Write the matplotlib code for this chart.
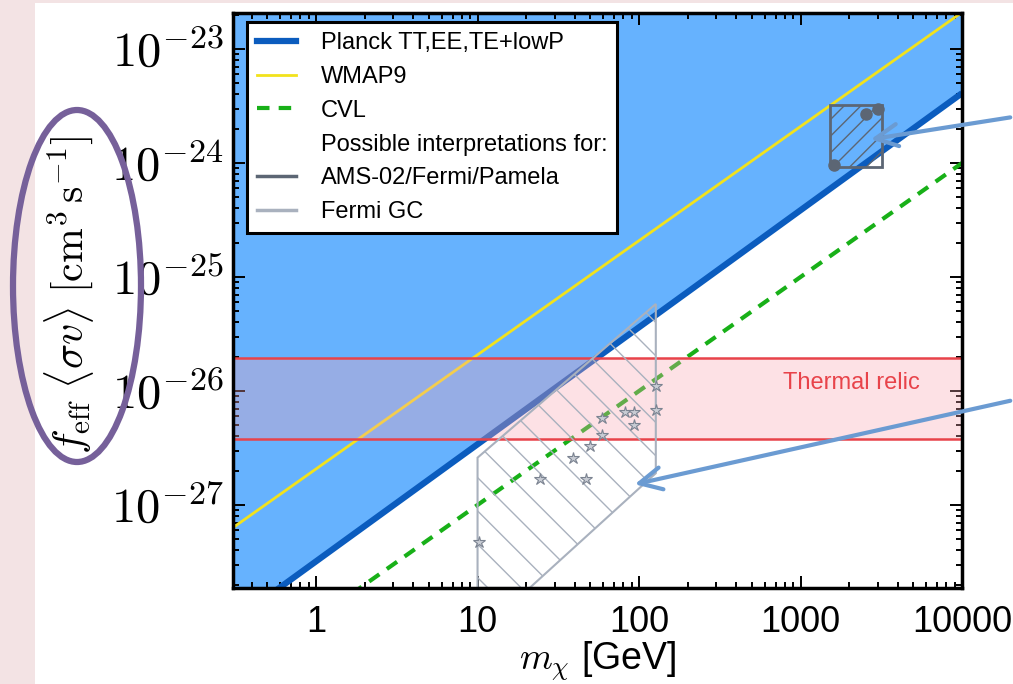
import numpy as np
import matplotlib.pyplot as plt
from matplotlib.lines import Line2D
from matplotlib.patches import Polygon, Rectangle, Ellipse
from matplotlib.ticker import FuncFormatter, FixedLocator, LogLocator, NullFormatter

plt.rcParams['font.family'] = ['Liberation Sans', 'DejaVu Sans']
plt.rcParams['mathtext.fontset'] = 'cm'
plt.rcParams['hatch.linewidth'] = 1.0

# данные
planck_mass = [0.3, 10000]
planck_sv = [9.3e-29, 4.1e-24]
wmap_mass = [0.3, 10000]
wmap_sv = [6.2e-28, 2.1e-23]
cvl_mass = [1.0, 10000]
cvl_sv = [1e-28, 1e-24]
relic_sv = [3.8e-27, 1.95e-26]

ams_box_mass = [1515, 3200]
ams_box_sv = [9.2e-25, 3.2e-24]
ams_pts_mass = [1611, 2545, 3020]
ams_pts_sv = [9.6e-25, 2.7e-24, 2.95e-24]

gc_poly_mass = [10, 10, 127, 127, 21]
gc_poly_sv = [1.87e-28, 2.6e-27, 5.8e-26, 1.9e-27, 1.87e-28]
gc_pts_mass = [10.2, 24.4, 47, 39, 50, 59, 59, 82, 93, 93, 127, 128]
gc_pts_sv = [4.7e-28, 1.7e-27, 1.7e-27, 2.6e-27, 3.3e-27, 4.1e-27, 5.8e-27,
             6.6e-27, 6.6e-27, 5.0e-27, 6.8e-27, 1.1e-26]

x_ticks = [1, 10, 100, 1000, 10000]
y_ticks = [1e-27, 1e-26, 1e-25, 1e-24, 1e-23]
xlim = (0.306, 10000)
ylim = (1.87e-28, 2.07e-23)

blue_fill = '#66b2fe'
planck_col = '#0b5cbe'
wmap_col = '#f2e21c'
cvl_col = '#18b018'
ams_col = '#5c6674'
gc_col = '#a9b1be'
red = '#e8434a'
arrow_col = '#6b9bd2'

fig = plt.figure(figsize=(10.13, 6.84), dpi=100)
fig.patch.set_facecolor('#f3e3e4')
fig.add_artist(Rectangle((35 / 1013, 0), 1, 1 - 3 / 684, transform=fig.transFigure,
                         facecolor='white', edgecolor='none', zorder=-10))

ax = fig.add_axes([0.230, 0.1404, 0.7197, 0.8406])
ax.set_xscale('log')
ax.set_yscale('log')
ax.set_xlim(*xlim)
ax.set_ylim(*ylim)

# исключённая область Planck
ax.fill_between(planck_mass, planck_sv, 1e-20, color=blue_fill, lw=0, zorder=1)
ax.plot(planck_mass, planck_sv, color=planck_col, lw=4.5, zorder=2, solid_capstyle='butt')
ax.plot(wmap_mass, wmap_sv, color=wmap_col, lw=2, zorder=2)
ax.plot(cvl_mass, cvl_sv, color=cvl_col, lw=3, ls=(0, (3, 2.2)), zorder=2)

# thermal relic
ax.axhspan(relic_sv[0], relic_sv[1], facecolor='#f9a5b3', alpha=0.33, lw=0, zorder=3)
for v in relic_sv:
    ax.axhline(v, color=red, lw=1.8, zorder=3)
ax.text(0.942, 0.357, 'Thermal relic', transform=ax.transAxes, ha='right', va='center',
        color=red, fontsize=17, zorder=6)

# AMS-02/Fermi/Pamela
bx = [ams_box_mass[0], ams_box_mass[1], ams_box_mass[1], ams_box_mass[0]]
by = [ams_box_sv[0], ams_box_sv[0], ams_box_sv[1], ams_box_sv[1]]
ax.add_patch(Polygon(list(zip(bx, by)), closed=True, facecolor='none', edgecolor=ams_col,
                     lw=2, hatch='//', zorder=4))
ax.plot(ams_pts_mass, ams_pts_sv, 'o', color=ams_col, ms=8, zorder=5)

# Fermi GC
ax.add_patch(Polygon(list(zip(gc_poly_mass, gc_poly_sv)), closed=True, facecolor='none',
                     edgecolor=gc_col, lw=1.5, hatch='\\', zorder=4))
ax.plot(gc_pts_mass, gc_pts_sv, '*', ms=9, mfc='#c8ccd4', mec='#7b8391', mew=0.8, zorder=5)

# оси
for s in ax.spines.values():
    s.set_linewidth(2.5)
    s.set_zorder(7)
ax.tick_params(which='both', direction='in', top=True, right=True, width=1.4)
ax.tick_params(which='major', length=8.5)
ax.tick_params(which='minor', length=4.3)
ax.tick_params(axis='y', which='major', pad=7, labelsize=35)
ax.tick_params(axis='x', which='major', pad=12, labelsize=26)
ax.yaxis.set_major_locator(FixedLocator(y_ticks))
ax.yaxis.set_minor_locator(LogLocator(base=10, subs=np.arange(2, 10), numticks=20))
ax.yaxis.set_minor_formatter(NullFormatter())
ax.yaxis.set_major_formatter(FuncFormatter(lambda v, p: r'$10^{%d}$' % round(np.log10(v))))
ax.xaxis.set_major_locator(FixedLocator(x_ticks))
ax.xaxis.set_major_formatter(FuncFormatter(lambda v, p: '%d' % round(v)))
ax.xaxis.set_minor_formatter(NullFormatter())

ax.set_xlabel(r'$m_\chi$ [GeV]', fontsize=27, labelpad=0)
ax.set_ylabel(r'$f_{\rm eff}\ \langle\sigma v\rangle\ [{\rm cm}^3\,{\rm s}^{-1}]$', fontsize=30)
ax.yaxis.set_label_coords(-0.188, 0.51)

handles = [
    Line2D([], [], color=planck_col, lw=4.5),
    Line2D([], [], color=wmap_col, lw=2),
    Line2D([], [], color=cvl_col, lw=3, ls=(0, (3, 2.2))),
    Line2D([], [], color='none'),
    Line2D([], [], color=ams_col, lw=2.5),
    Line2D([], [], color=gc_col, lw=2.5),
]
labels = ['Planck TT,EE,TE+lowP', 'WMAP9', 'CVL', 'Possible interpretations for:',
          'AMS-02/Fermi/Pamela', 'Fermi GC']
leg = ax.legend(handles, labels, loc='upper left', bbox_to_anchor=(0.019, 0.984),
                borderaxespad=0, fontsize=17, frameon=True, fancybox=False, framealpha=1,
                handlelength=1.65, handletextpad=1.05, labelspacing=0.5, borderpad=0.42)
leg.get_frame().set_edgecolor('black')
leg.get_frame().set_linewidth(2.2)
leg.set_zorder(8)

# стрелки и овал со слайда
ax.annotate('', xy=(2620, 1.6e-24), xycoords='data', xytext=(1.0, 0.829),
            textcoords='figure fraction',
            arrowprops=dict(arrowstyle='->', color=arrow_col, lw=3.0, mutation_scale=40),
            annotation_clip=False, zorder=9)
ax.annotate('', xy=(90.5, 1.5e-27), xycoords='data', xytext=(1.0, 0.415),
            textcoords='figure fraction',
            arrowprops=dict(arrowstyle='->', color=arrow_col, lw=3.0, mutation_scale=40),
            annotation_clip=False, zorder=9)
fig.add_artist(Ellipse((77 / 1013, 1 - 286 / 684), 128 / 1013, 352 / 684,
                       transform=fig.transFigure, facecolor='none', edgecolor='#76609a',
                       lw=4.5, zorder=10))

fig.savefig('out.png', dpi=100)
